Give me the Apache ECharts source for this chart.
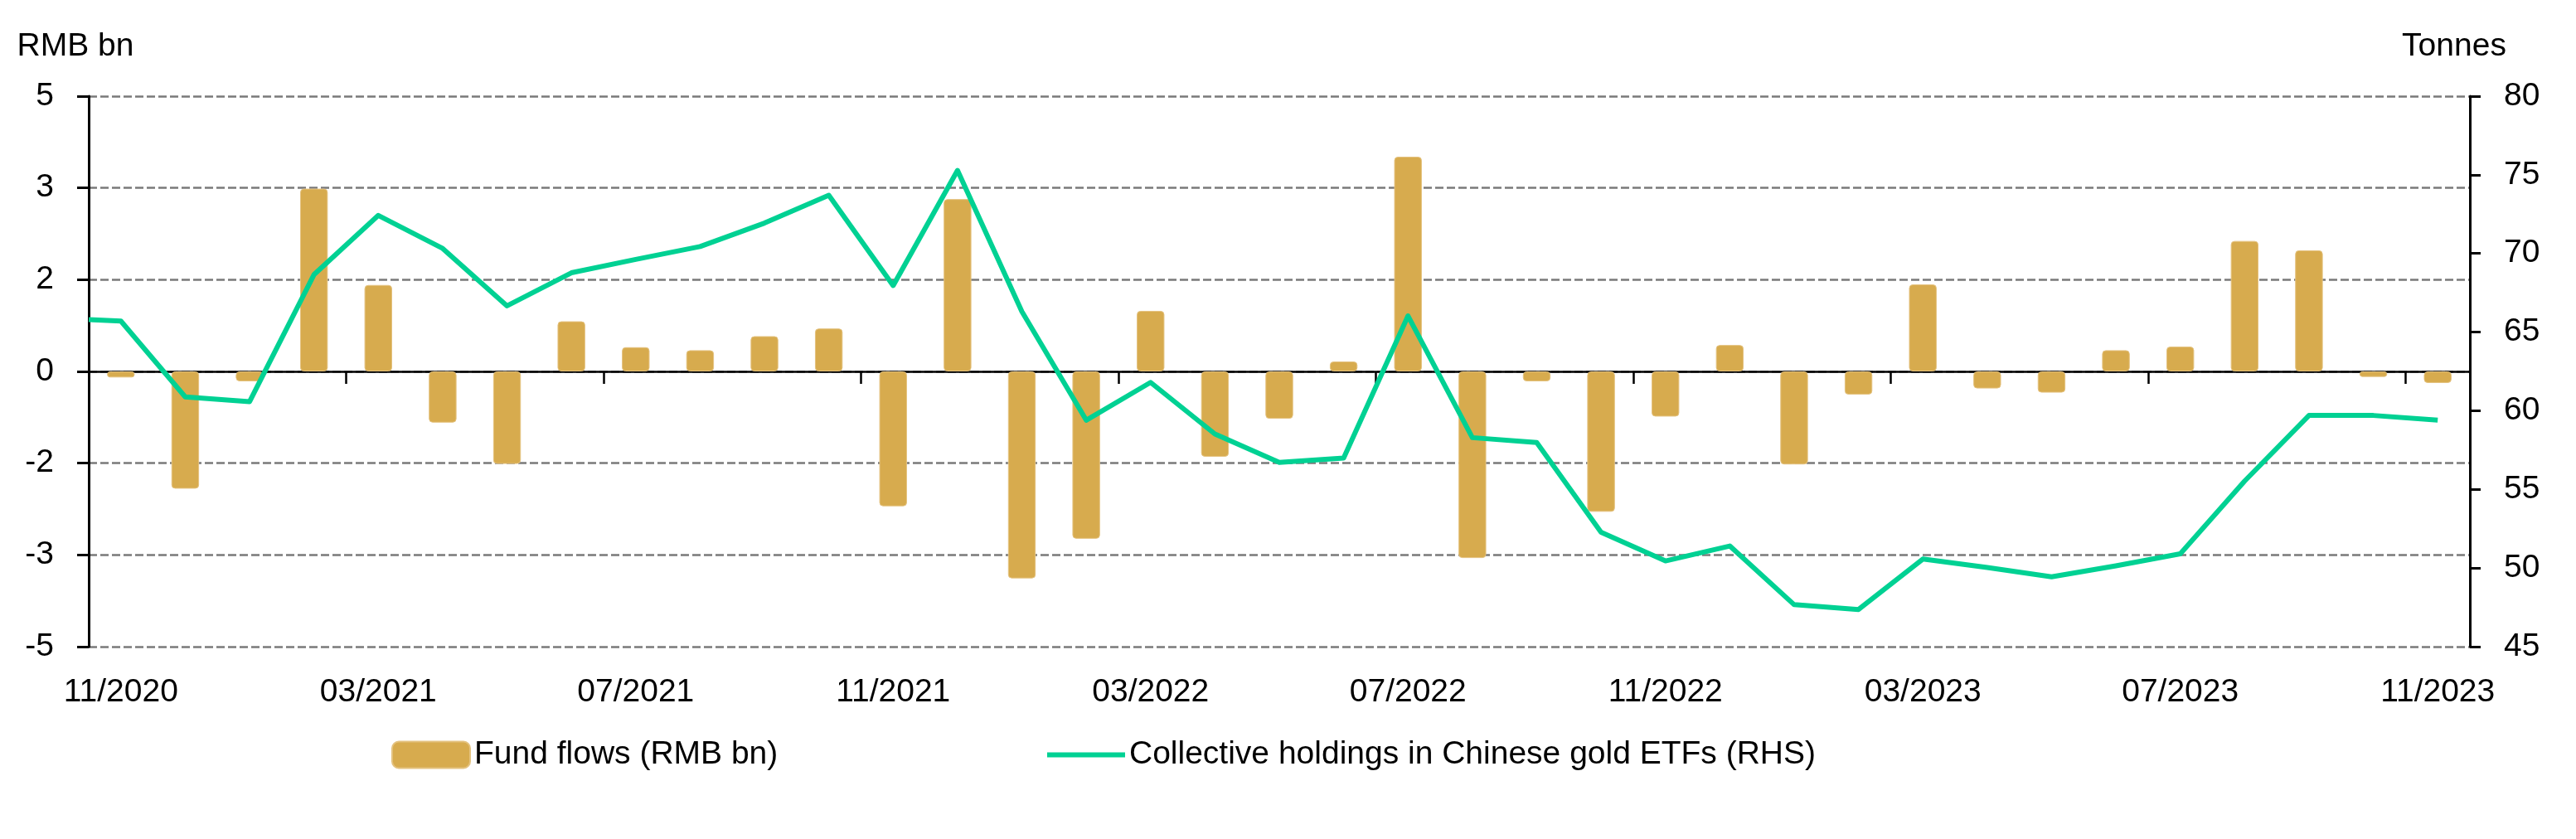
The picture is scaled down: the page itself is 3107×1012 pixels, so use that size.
<!DOCTYPE html>
<html>
<head>
<meta charset="utf-8">
<script src="https://cdn.jsdelivr.net/npm/echarts@6/dist/echarts.min.js"></script>
<style>
html,body{margin:0;padding:0;background:#fff;}
#chart{width:3107px;height:1012px;}
</style>
</head>
<body>
<div id="chart"></div>
<script>
const categories = ['11/2020','12/2020','01/2021','02/2021','03/2021','04/2021','05/2021','06/2021','07/2021','08/2021','09/2021','10/2021',
  '11/2021','12/2021','01/2022','02/2022','03/2022','04/2022','05/2022','06/2022','07/2022','08/2022','09/2022','10/2022',
  '11/2022','12/2022','01/2023','02/2023','03/2023','04/2023','05/2023','06/2023','07/2023','08/2023','09/2023','10/2023','11/2023'];
const fundFlows = [-0.11,-2.13,-0.18,3.32,1.57,-0.93,-1.68,0.91,0.44,0.385,0.64,0.78,
  -2.45,3.13,-3.76,-3.04,1.10,-1.55,-0.86,0.18,3.90,-3.39,-0.18,-2.55,
  -0.82,0.48,-1.69,-0.42,1.58,-0.31,-0.385,0.385,0.45,2.37,2.20,-0.10,-0.21];
const holdings = [65.7,60.88,60.58,68.65,72.42,70.32,66.67,68.77,69.62,70.44,71.93,73.70,
  67.96,75.28,66.31,59.40,61.80,58.52,56.71,56.99,66.03,58.29,57.98,52.27,
  50.45,51.40,47.67,47.36,50.57,50.03,49.44,50.14,50.90,55.53,59.70,59.70,59.40];
const holdingsLead = 65.8; // line starts at the left edge of the plot
const leftTicks = {min: -5, max: 5, splits: 6};
const rightTicks = {min: 45, max: 80, step: 5};
const seriesNames = ['Fund flows (RMB bn)', 'Collective holdings in Chinese gold ETFs (RHS)'];
const axisNames = ['RMB bn', 'Tonnes'];

const FONT = "'Liberation Sans', Arial, sans-serif";
const FS = 39;
const GOLD = '#D7AB4E';
const GREEN = '#00D193';

const lineData = [[-0.5, holdingsLead]].concat(holdings.map((v, i) => [i, v]));

const chart = echarts.init(document.getElementById('chart'), null, {renderer: 'canvas'});
chart.setOption({
  animation: false,
  backgroundColor: '#ffffff',
  textStyle: {fontFamily: FONT, color: '#000'},
  grid: {left: 107, right: 128, top: 116, bottom: 232, containLabel: false},
  legend: [
    {
      left: 467, top: 886,
      itemWidth: 94, itemHeight: 32,
      textStyle: {fontSize: FS, color: '#000', fontFamily: FONT},
      data: [{name: seriesNames[0], icon: 'roundRect'}]
    },
    {
      left: 1258, top: 886,
      itemWidth: 94, itemHeight: 6,
      textStyle: {fontSize: FS, color: '#000', fontFamily: FONT},
      data: [{name: seriesNames[1], icon: 'rect'}]
    }
  ],
  xAxis: [
    {
      type: 'category', data: categories, position: 'bottom', boundaryGap: true,
      axisLine: {show: true, onZero: true, lineStyle: {color: '#000', width: 2.5}},
      axisTick: {show: true, interval: 3, length: 15, lineStyle: {color: '#000', width: 2.5}},
      axisLabel: {show: false},
      splitLine: {show: false}
    },
    {
      type: 'category', data: categories, position: 'bottom', boundaryGap: true,
      axisLine: {show: false, onZero: false},
      axisTick: {show: false},
      axisLabel: {show: true, interval: 3, margin: 36, fontSize: FS, color: '#000', fontFamily: FONT},
      splitLine: {show: false}
    },
    {
      type: 'value', min: -0.5, max: categories.length - 0.5, show: false,
      axisLine: {show: false}, splitLine: {show: false}
    }
  ],
  yAxis: [
    {
      type: 'value', position: 'left',
      min: leftTicks.min, max: leftTicks.max,
      interval: (leftTicks.max - leftTicks.min) / leftTicks.splits,
      name: axisNames[0], nameLocation: 'end', nameGap: 40,
      nameTextStyle: {fontSize: FS, color: '#000', fontFamily: FONT, align: 'center', padding: [0, 32, 0, 0]},
      axisLine: {show: true, onZero: false, lineStyle: {color: '#000', width: 3}},
      axisTick: {show: true, length: 14, lineStyle: {color: '#000', width: 3}},
      axisLabel: {margin: 42, fontSize: FS, color: '#000', fontFamily: FONT,
        formatter: v => String(Math.round(v))},
      splitLine: {show: true, lineStyle: {color: '#7a7a7a', width: 2.5, type: [10, 4]}}
    },
    {
      type: 'value', position: 'right',
      min: rightTicks.min, max: rightTicks.max, interval: rightTicks.step,
      name: axisNames[1], nameLocation: 'end', nameGap: 40,
      nameTextStyle: {fontSize: FS, color: '#000', fontFamily: FONT, align: 'center', padding: [0, 38, 0, 0]},
      axisLine: {show: true, onZero: false, lineStyle: {color: '#000', width: 3}},
      axisTick: {show: true, length: 13, lineStyle: {color: '#000', width: 3}},
      axisLabel: {margin: 41, fontSize: FS, color: '#000', fontFamily: FONT},
      splitLine: {show: false}
    }
  ],
  series: [
    {
      name: seriesNames[0], type: 'bar', xAxisIndex: 0, yAxisIndex: 0,
      data: fundFlows, barWidth: '43%',
      itemStyle: {color: GOLD, borderRadius: 4, borderColor: '#E4C27F', borderWidth: 1}
    },
    {
      name: seriesNames[1], type: 'line', xAxisIndex: 2, yAxisIndex: 1,
      data: lineData, symbol: 'none', showSymbol: false,
      lineStyle: {color: GREEN, width: 6, join: 'round'},
      itemStyle: {color: GREEN}
    }
  ]
});
</script>
</body>
</html>
